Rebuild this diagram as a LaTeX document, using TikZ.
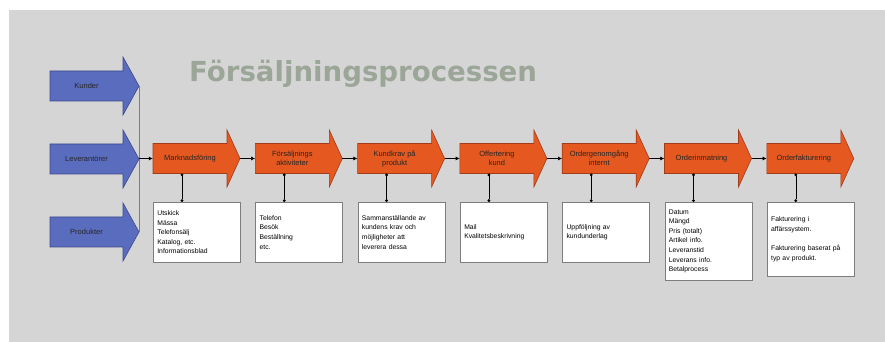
\documentclass[tikz,border=0pt]{standalone}
\usepackage{fontspec}
\setmainfont{Liberation Sans}
\newfontfamily\titlefont{DejaVu Sans}
\usetikzlibrary{arrows.meta}
\definecolor{bggrey}{RGB}{213,213,213}
\definecolor{ofill}{RGB}{229,88,32}
\definecolor{odraw}{RGB}{160,60,25}
\definecolor{bfill}{RGB}{90,108,190}
\definecolor{bdraw}{RGB}{60,72,140}
\definecolor{titlegrey}{RGB}{156,166,152}
\definecolor{boxline}{RGB}{125,125,125}
\tikzset{
  oshape/.style={fill=ofill,draw=odraw,line width=0.6pt},
  bshape/.style={fill=bfill,draw=bdraw,line width=0.6pt},
  olabel/.style={minimum width=74pt,minimum height=30pt,inner sep=0pt,align=center,font=\fontsize{7.5}{9}\selectfont,text=black!85},
  blabel/.style={minimum width=73pt,minimum height=30pt,inner sep=0pt,align=center,font=\fontsize{7.5}{9}\selectfont,text=black!85},
  infobox/.style={draw=boxline,fill=white,line width=0.7pt,anchor=north west,text width=79pt,inner xsep=4pt,inner ysep=2pt,align=left,font=\fontsize{6.8}{9.6}\selectfont},
  flowline/.style={draw=black,line width=0.6pt,-{Latex[length=4pt,width=4pt]}},
  dropline/.style={draw=black,line width=0.6pt,{Circle[length=2.8pt]}-{Circle[length=2.8pt]}},
  feedline/.style={draw=boxline,line width=0.8pt}
}
\newcommand\orangearrow[4]{%
  \filldraw[oshape] (#2,#3-15) -- (#2,#3+15) -- (#2+74,#3+15) -- (#2+74,#3+28.5)
     -- (#2+87,#3) -- (#2+74,#3-28.5) -- (#2+74,#3-15) -- cycle;
  \node[olabel] (#1) at (#2+37,#3) {#4};
  \coordinate (#1tip) at (#2+87,#3);
  \coordinate (#1drop) at (#2+29,#3-15);}
\newcommand\bluearrow[4]{%
  \filldraw[bshape] (#2,#3-15) -- (#2,#3+15) -- (#2+73,#3+15) -- (#2+73,#3+29)
     -- (#2+89,#3) -- (#2+73,#3-29) -- (#2+73,#3-15) -- cycle;
  \node[blabel] (#1) at (#2+36.5,#3) {#4};
  \coordinate (#1tip) at (#2+89,#3);}
\begin{document}
\begin{tikzpicture}[x=1pt,y=1pt]
\useasboundingbox (0,0) rectangle (885,342);
\fill[white] (0,0) rectangle (885,342);
\fill[bggrey] (9,0) rectangle (885,332);

\node[anchor=base west,inner sep=0pt,text=titlegrey,font=\titlefont\bfseries\fontsize{27.6}{30}\selectfont] (title) at (189,260) {Försäljningsprocessen};

% blue inputs
\bluearrow{k1}{50}{256}{Kunder}
\bluearrow{k2}{50}{183}{Leverantörer}
\bluearrow{k3}{50}{110}{Produkter}
\draw[feedline] (k1tip) -- (k3tip);

% process arrows
\orangearrow{o1}{153}{183.5}{Marknadsföring}
\orangearrow{o2}{255.3}{183.5}{Försäljnings\\aktiviteter}
\orangearrow{o3}{357.6}{183.5}{Kundkrav på\\produkt}
\orangearrow{o4}{459.9}{183.5}{Offertering\\kund}
\orangearrow{o5}{562.2}{183.5}{Ordergenomgång\\internt}
\orangearrow{o6}{664.5}{183.5}{Orderinmatning}
\orangearrow{o7}{766.8}{183.5}{Orderfakturering}

\draw[flowline] (k2tip |- o1.west) -- (o1.west);
\draw[flowline] (o1tip) -- (o2.west);
\draw[flowline] (o2tip) -- (o3.west);
\draw[flowline] (o3tip) -- (o4.west);
\draw[flowline] (o4tip) -- (o5.west);
\draw[flowline] (o5tip) -- (o6.west);
\draw[flowline] (o6tip) -- (o7.west);

% info boxes
\node[infobox,minimum height=60pt] (b1) at (153,140) {Utskick\\Mässa\\Telefonsälj\\Katalog, etc.\\Informationsblad};
\node[infobox,minimum height=60pt] (b2) at (255.3,140) {Telefon\\Besök\\Beställning\\etc.};
\node[infobox,minimum height=60pt] (b3) at (357.6,140) {Sammanställande av\\kundens krav och\\möjligheter att\\leverera dessa};
\node[infobox,minimum height=60pt] (b4) at (459.9,140) {Mail\\Kvalitetsbeskrivning};
\node[infobox,minimum height=60pt] (b5) at (562.2,140) {Uppföljning av\\kundunderlag};
\node[infobox,minimum height=78pt] (b6) at (664.5,140) {Datum\\Mängd\\Pris (totalt)\\Artikel info.\\Leveranstid\\Leverans info.\\Betalprocess};
\node[infobox,minimum height=74pt] (b7) at (766.8,140) {Fakturering i\\affärssystem.\\[9.6pt]Fakturering baserat på\\typ av produkt.};

\draw[dropline] (o1drop) -- (o1drop |- b1.north);
\draw[dropline] (o2drop) -- (o2drop |- b2.north);
\draw[dropline] (o3drop) -- (o3drop |- b3.north);
\draw[dropline] (o4drop) -- (o4drop |- b4.north);
\draw[dropline] (o5drop) -- (o5drop |- b5.north);
\draw[dropline] (o6drop) -- (o6drop |- b6.north);
\draw[dropline] (o7drop) -- (o7drop |- b7.north);
\end{tikzpicture}
\end{document}
